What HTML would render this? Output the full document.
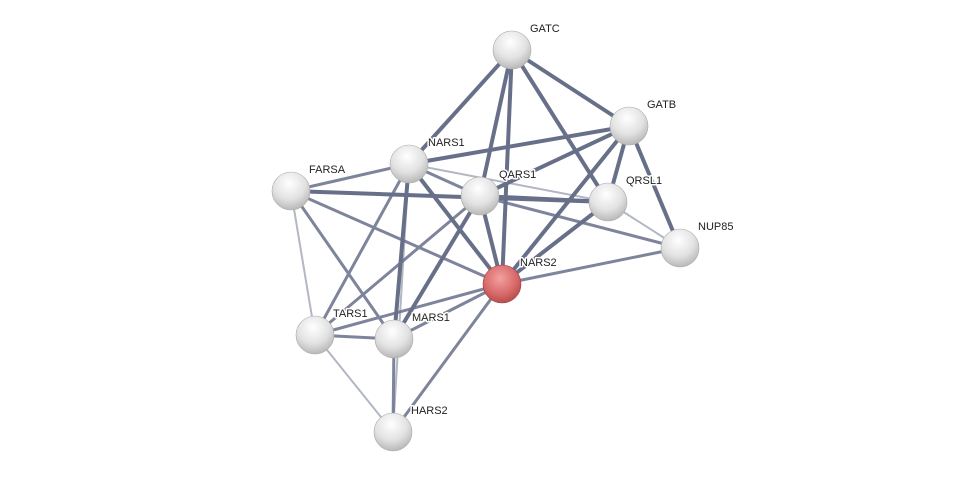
<!DOCTYPE html>
<html><head><meta charset="utf-8"><style>
html,body{margin:0;padding:0;background:#fff;width:975px;height:477px;overflow:hidden}
text{font-family:"Liberation Sans",sans-serif;font-size:11px;fill:#222;stroke:#fff;stroke-width:3px;paint-order:stroke;stroke-linejoin:round}
</style></head><body>
<svg width="975" height="477" viewBox="0 0 975 477" xmlns="http://www.w3.org/2000/svg">
<defs>
<radialGradient id="g" cx="45%" cy="30%" r="70%">
<stop offset="0" stop-color="#ffffff"/><stop offset="0.6" stop-color="#e2e2e2"/><stop offset="1" stop-color="#b8b8b8"/></radialGradient>
<radialGradient id="r" cx="45%" cy="35%" r="70%">
<stop offset="0" stop-color="#f4a0a0"/><stop offset="0.6" stop-color="#d86a6a"/><stop offset="1" stop-color="#b04848"/></radialGradient>
</defs>
<g stroke="#4d5675" stroke-linecap="round" opacity="0.85">
<g stroke-width="4">
<line x1="512" y1="50" x2="409" y2="164"/><line x1="512" y1="50" x2="480" y2="196"/><line x1="512" y1="50" x2="502" y2="284"/>
<line x1="512" y1="50" x2="629" y2="126"/><line x1="512" y1="50" x2="608" y2="202"/>
<line x1="629" y1="126" x2="409" y2="164"/><line x1="629" y1="126" x2="480" y2="196"/><line x1="629" y1="126" x2="608" y2="202"/>
<line x1="629" y1="126" x2="680" y2="248"/><line x1="629" y1="126" x2="502" y2="284"/>
<line x1="409" y1="164" x2="502" y2="284"/><line x1="409" y1="164" x2="394" y2="339"/>
<line x1="480" y1="196" x2="502" y2="284"/><line x1="480" y1="196" x2="608" y2="202"/><line x1="480" y1="196" x2="394" y2="339"/>
<line x1="608" y1="202" x2="502" y2="284"/><line x1="291" y1="191" x2="608" y2="202"/>
</g>
<g stroke-width="3" opacity="0.85">
<line x1="291" y1="191" x2="409" y2="164"/><line x1="291" y1="191" x2="502" y2="284"/><line x1="291" y1="191" x2="394" y2="339"/>
<line x1="409" y1="164" x2="480" y2="196"/><line x1="409" y1="164" x2="315" y2="335"/>
<line x1="480" y1="196" x2="315" y2="335"/><line x1="480" y1="196" x2="680" y2="248"/>
<line x1="680" y1="248" x2="502" y2="284"/>
<line x1="502" y1="284" x2="315" y2="335"/><line x1="502" y1="284" x2="394" y2="339"/><line x1="502" y1="284" x2="393" y2="432"/>
<line x1="315" y1="335" x2="394" y2="339"/><line x1="394" y1="339" x2="393" y2="432"/>
</g>
<g stroke-width="2" opacity="0.5">
<line x1="291" y1="191" x2="315" y2="335"/><line x1="409" y1="164" x2="608" y2="202"/>
<line x1="608" y1="202" x2="680" y2="248"/><line x1="315" y1="335" x2="393" y2="432"/>
<line x1="409" y1="164" x2="393" y2="432"/>
</g>
</g>
<g stroke="#aaa" stroke-width="0.6">
<circle cx="512" cy="50" r="19" fill="url(#g)"/>
<circle cx="629" cy="126" r="19" fill="url(#g)"/>
<circle cx="409" cy="164" r="19" fill="url(#g)"/>
<circle cx="291" cy="191" r="19" fill="url(#g)"/>
<circle cx="480" cy="196" r="19" fill="url(#g)"/>
<circle cx="608" cy="202" r="19" fill="url(#g)"/>
<circle cx="680" cy="248" r="19" fill="url(#g)"/>
<circle cx="502" cy="284" r="19" fill="url(#r)" stroke="#a04040"/>
<circle cx="315" cy="335" r="19" fill="url(#g)"/>
<circle cx="394" cy="339" r="19" fill="url(#g)"/>
<circle cx="393" cy="432" r="19" fill="url(#g)"/>
</g>
<text x="530" y="32">GATC</text>
<text x="647" y="108">GATB</text>
<text x="428" y="146">NARS1</text>
<text x="309" y="173">FARSA</text>
<text x="499" y="178">QARS1</text>
<text x="626" y="184">QRSL1</text>
<text x="698" y="230">NUP85</text>
<text x="520" y="266">NARS2</text>
<text x="333" y="317">TARS1</text>
<text x="412" y="321">MARS1</text>
<text x="411" y="414">HARS2</text>
</svg>
</body></html>
